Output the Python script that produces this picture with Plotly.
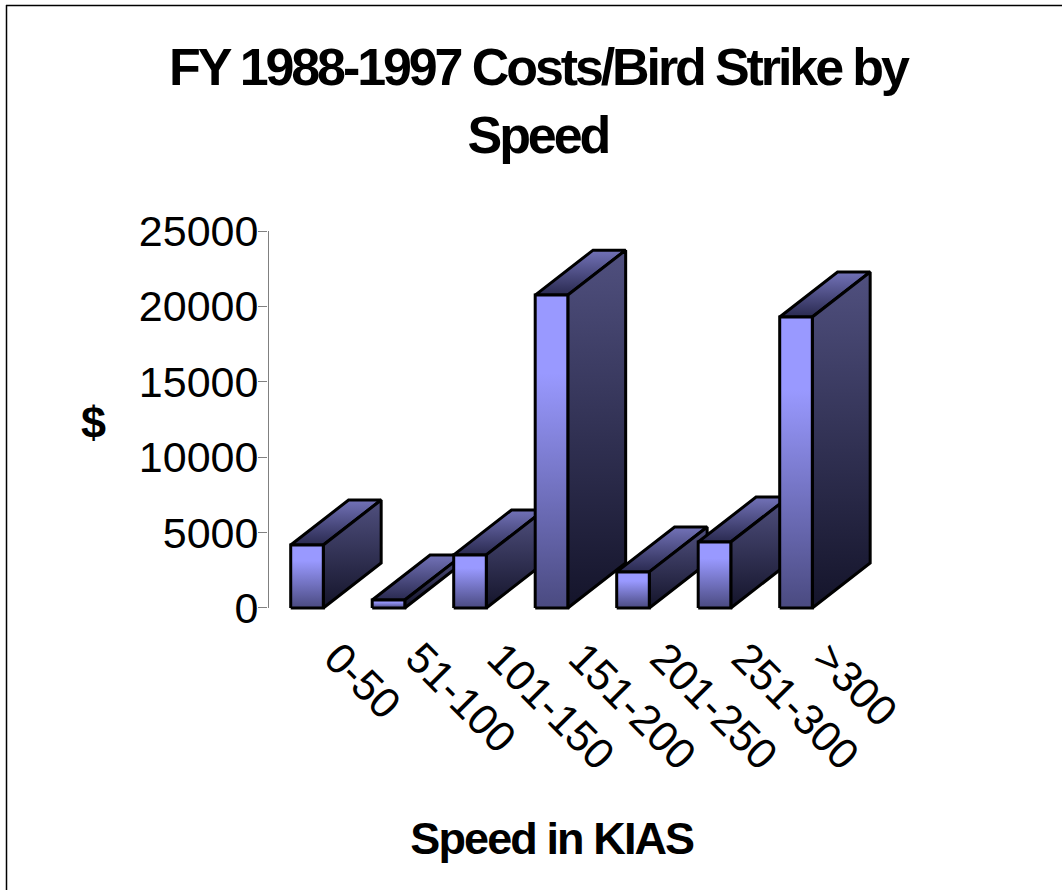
import plotly.graph_objects as go

categories = ["0-50", "51-100", "101-150", "151-200", "201-250", "251-300", ">300"]
values = [4180, 530, 3520, 20750, 2390, 4375, 19300]
y_ticks = [0, 5000, 10000, 15000, 20000, 25000]
y_tick_labels = ["0", "5000", "10000", "15000", "20000", "25000"]
title_text = "FY 1988-1997 Costs/Bird Strike by<br>Speed"
x_title = "Speed in KIAS"
y_title = "$"

BAR_W = 0.40    # category units
DEPTH_X = 0.71
DEPTH_Y = 2980
FRONT = [[0, "#9999FF"], [0.25, "#9999FF"], [1, "#4A4A80"]]
SIDE = [[0, "#50507F"], [1, "#14142A"]]
TOP = [[0, "#7272B8"], [1, "#2A2A50"]]
LINE = dict(color="#000000", width=3)

# plot-area pixel frame
L, R, T, B = 268, 900, 231, 611
PX_W, PX_H = R - L, B - T


def px(x):
    return (x - L) / PX_W


def py(y):
    return (B - y) / PX_H


def face(xs, ys, scale):
    return go.Scatter(
        x=xs + xs[:1], y=ys + ys[:1], mode="lines", fill="toself", line=LINE,
        fillgradient=dict(type="vertical", colorscale=scale, start=max(ys), stop=min(ys)),
        hoverinfo="skip", showlegend=False,
    )


fig = go.Figure()
for i, v in enumerate(values):
    l, r = i - BAR_W / 2, i + BAR_W / 2
    fig.add_trace(face([l, l + DEPTH_X, r + DEPTH_X, r], [v, v + DEPTH_Y, v + DEPTH_Y, v], TOP))
    fig.add_trace(face([r, r + DEPTH_X, r + DEPTH_X, r], [0, DEPTH_Y, v + DEPTH_Y, v], SIDE))
    fig.add_trace(face([l, r, r, l], [0, 0, v, v], FRONT))

FONT = "Liberation Sans, Arial, sans-serif"
fig.update_layout(
    width=1062, height=890, margin=dict(l=L, r=1062 - R, t=T, b=890 - B),
    paper_bgcolor="#FFFFFF", plot_bgcolor="#FFFFFF",
    font=dict(family=FONT, color="#000000", size=41),
    title=dict(text="<b>" + title_text.replace("<br>", "</b><br><b>") + "</b>",
               x=0.5065, xanchor="center", y=0.9045, yanchor="middle",
               font=dict(size=52, family=FONT)),
    xaxis=dict(range=[(L - 307) / 81.5, (R - 307) / 81.5], tickmode="array",
               tickvals=[i + 0.367 for i in range(7)], ticktext=categories, tickangle=45,
               showgrid=False, zeroline=False, showline=False, ticks="",
               tickfont=dict(size=43), ticklabelstandoff=12),
    yaxis=dict(range=[-200, 25000], tickmode="array", tickvals=y_ticks, ticktext=y_tick_labels,
               ticks="outside", ticklen=9, tickcolor="#808080", tickwidth=1, showline=False,
               showgrid=False, zeroline=False, tickfont=dict(size=43), ticklabelstandoff=-9),
    annotations=[
        dict(text="<b>%s</b>" % x_title, xref="paper", yref="paper", x=px(552), y=py(838),
             showarrow=False, font=dict(size=45), xanchor="center", yanchor="middle"),
        dict(text="<b>%s</b>" % y_title, xref="paper", yref="paper", x=px(92), y=py(422),
             showarrow=False, font=dict(size=45), xanchor="center", yanchor="middle"),
    ],
    shapes=[
        dict(type="line", xref="paper", yref="y", x0=px(268.5), x1=px(268.5), y0=0, y1=25000,
             line=dict(color="#808080", width=1)),
        dict(type="line", xref="paper", yref="paper", x0=px(6), x1=px(1062), y0=py(5.5), y1=py(5.5),
             line=dict(color="#000000", width=1.5)),
        dict(type="line", xref="paper", yref="paper", x0=px(6.5), x1=px(6.5), y0=py(5), y1=py(890),
             line=dict(color="#000000", width=1.5)),
    ],
)
post = """
document.body.style.margin='0';
document.querySelectorAll('.gtitle').forEach(function(t){t.style.letterSpacing='-3.1px';});
document.querySelectorAll('.annotation-text').forEach(function(t){t.style.letterSpacing='-1.9px';});
"""
fig.write_html("out.html", post_script=post, config={"displayModeBar": False})
